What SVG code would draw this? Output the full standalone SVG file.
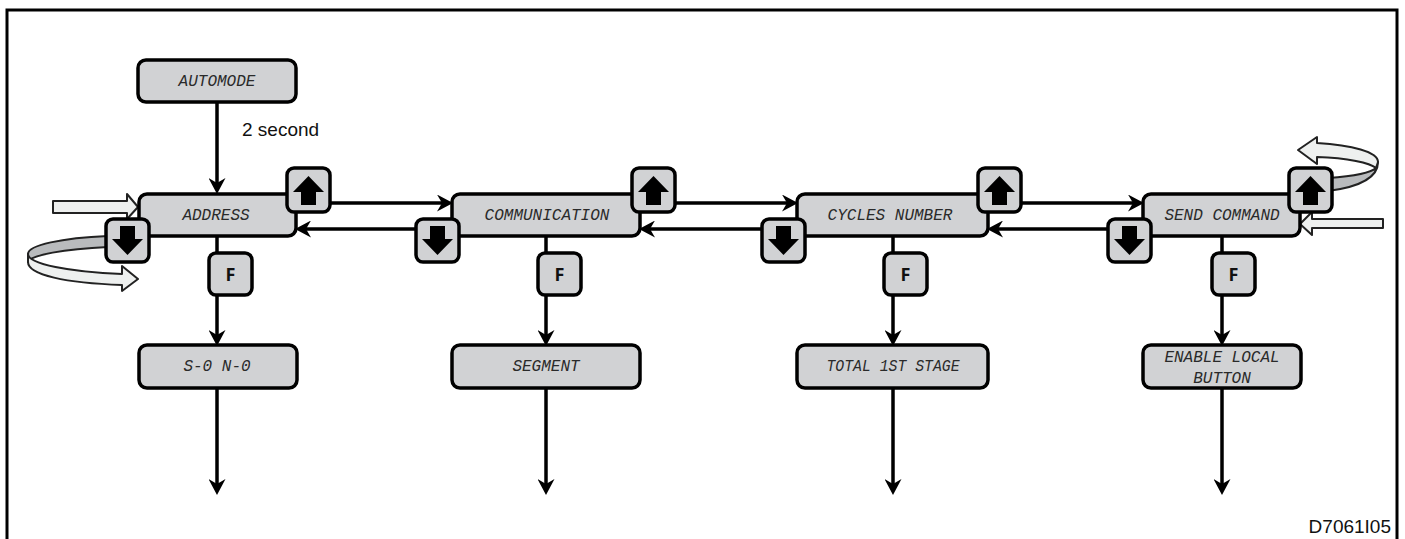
<svg xmlns="http://www.w3.org/2000/svg" width="1405" height="539" viewBox="0 0 1405 539">
  <style>
    .box{fill:#d1d2d4;stroke:#000;stroke-width:3.5}
    .lcd{font-family:"Liberation Mono","DejaVu Sans Mono",monospace;font-size:16px;font-style:italic;fill:#2a2a2a;text-anchor:middle}
    .ftxt{font-family:"Open Sans","Liberation Sans",sans-serif;font-weight:bold;font-size:18px;fill:#111;text-anchor:middle}
    .conn{stroke:#000;stroke-width:3.5;fill:none}
    .glyph{fill:#000}
    .white{fill:#eef0ef;stroke:#222;stroke-width:2;stroke-linejoin:round}
    .grey{fill:#b9bbbd;stroke:#222;stroke-width:2;stroke-linejoin:round}
    .lbl{font-family:"Liberation Sans",Arial,sans-serif;font-size:19px;fill:#111}
  </style>
  <defs>
    <marker id="ah" viewBox="0 0 16 17" refX="9" refY="8.5" markerWidth="16" markerHeight="17" markerUnits="userSpaceOnUse" orient="auto">
      <path d="M0,0 L16,8.5 L0,17 L5,8.5 Z" fill="#000"/>
    </marker>
    <g id="upbtn">
      <rect x="0" y="0" width="43" height="44" rx="7" class="box"/>
      <path d="M21.5,8 L37,24 L29,24 L29,37 L14,37 L14,24 L6,24 Z" class="glyph"/>
    </g>
    <g id="dnbtn">
      <rect x="0" y="0" width="43" height="43" rx="7" class="box"/>
      <path d="M14,7 L29,7 L29,20 L37,20 L21.5,36 L6,20 L14,20 Z" class="glyph"/>
    </g>
    <g id="fbtn">
      <rect x="0" y="0" width="43" height="42" rx="7" class="box"/>
      <text x="21.5" y="27.5" class="ftxt">F</text>
    </g>
  </defs>

  <rect x="7" y="10" width="1390" height="545" fill="#fff" stroke="#000" stroke-width="3"/>

  <g id="connectors">
    <line x1="217" y1="102" x2="217" y2="187" class="conn" marker-end="url(#ah)"/>
    <line x1="217" y1="236" x2="217" y2="339" class="conn" marker-end="url(#ah)"/>
    <line x1="217" y1="388" x2="217" y2="488" class="conn" marker-end="url(#ah)"/>
    <line x1="546" y1="236" x2="546" y2="339" class="conn" marker-end="url(#ah)"/>
    <line x1="546" y1="388" x2="546" y2="488" class="conn" marker-end="url(#ah)"/>
    <line x1="893" y1="236" x2="893" y2="339" class="conn" marker-end="url(#ah)"/>
    <line x1="893" y1="388" x2="893" y2="488" class="conn" marker-end="url(#ah)"/>
    <line x1="1222" y1="236" x2="1222" y2="339" class="conn" marker-end="url(#ah)"/>
    <line x1="1222" y1="388" x2="1222" y2="488" class="conn" marker-end="url(#ah)"/>
    <line x1="315" y1="203" x2="446" y2="203" class="conn" marker-end="url(#ah)"/>
    <line x1="660" y1="203" x2="791" y2="203" class="conn" marker-end="url(#ah)"/>
    <line x1="1005" y1="203" x2="1137" y2="203" class="conn" marker-end="url(#ah)"/>
    <line x1="430" y1="229" x2="302" y2="229" class="conn" marker-end="url(#ah)"/>
    <line x1="776" y1="229" x2="646" y2="229" class="conn" marker-end="url(#ah)"/>
    <line x1="1122" y1="229" x2="994" y2="229" class="conn" marker-end="url(#ah)"/>
  </g>

  <text x="242" y="136" class="lbl">2 second</text>

  <g id="entry-arrows">
    <path d="M53,201 L127,201 L127,194 L138,207 L127,219 L127,213 L53,213 Z" class="white"/>
    <path d="M108,236 C62,238 28,245 28,254 L28,262 C31,255 64,249 108,247 Z" class="grey"/>
    <path d="M28,254 C28,264 70,272 122,274 L122,266 L138,279 L122,291 L122,285 C66,283 28,275 28,262 Z" class="white"/>
    <path d="M1383,219 L1312,219 L1312,212 L1300,224 L1312,235 L1312,228 L1383,228 Z" class="white"/>
    <path d="M1378,162 C1378,177 1360,187 1328,191 L1328,178 C1355,176 1372,172 1376,168 Z" class="grey"/>
    <path d="M1317,143 C1352,145 1378,152 1378,162 L1376,168 C1370,163 1348,158 1317,157 L1317,164 L1298,150 L1317,137 Z" class="white"/>
  </g>

  <g id="node-automode">
    <rect x="138" y="60" width="158" height="42" rx="8" class="box"/>
    <text x="217" y="86" class="lcd">AUTOMODE</text>
  </g>

  <g id="node-address">
    <rect x="139" y="194" width="157" height="42" rx="8" class="box"/>
    <text x="216" y="220" class="lcd">ADDRESS</text>
    <use href="#upbtn" x="287" y="168"/>
    <use href="#dnbtn" x="106" y="219"/>
    <use href="#fbtn" x="209" y="253"/>
  </g>

  <g id="node-communication">
    <rect x="452" y="194" width="188" height="42" rx="8" class="box"/>
    <text x="547" y="220" class="lcd">COMMUNICATION</text>
    <use href="#upbtn" x="632" y="168"/>
    <use href="#dnbtn" x="416" y="219"/>
    <use href="#fbtn" x="538" y="253"/>
  </g>

  <g id="node-cycles">
    <rect x="797" y="194" width="191" height="42" rx="8" class="box"/>
    <text x="890" y="220" class="lcd">CYCLES NUMBER</text>
    <use href="#upbtn" x="978" y="168"/>
    <use href="#dnbtn" x="762" y="219"/>
    <use href="#fbtn" x="884" y="253"/>
  </g>

  <g id="node-send">
    <rect x="1143" y="194" width="157" height="42" rx="8" class="box"/>
    <text x="1222" y="220" class="lcd">SEND COMMAND</text>
    <use href="#upbtn" x="1289" y="168"/>
    <use href="#dnbtn" x="1108" y="219"/>
    <use href="#fbtn" x="1212" y="253"/>
  </g>

  <g id="node-s0n0">
    <rect x="139" y="345" width="158" height="43" rx="8" class="box"/>
    <text x="217" y="371" class="lcd">S-0 N-0</text>
  </g>

  <g id="node-segment">
    <rect x="452" y="345" width="188" height="43" rx="8" class="box"/>
    <text x="546" y="371" class="lcd">SEGMENT</text>
  </g>

  <g id="node-total">
    <rect x="797" y="345" width="191" height="43" rx="8" class="box"/>
    <text x="893" y="371" class="lcd" textLength="133" lengthAdjust="spacingAndGlyphs">TOTAL 1ST STAGE</text>
  </g>

  <g id="node-enable">
    <rect x="1143" y="345" width="158" height="43" rx="8" class="box"/>
    <text x="1222" y="362" class="lcd">ENABLE LOCAL</text>
    <text x="1222" y="383" class="lcd">BUTTON</text>
  </g>

  <text x="1391" y="533" class="lbl" text-anchor="end" font-size="18">D7061I05</text>
</svg>
